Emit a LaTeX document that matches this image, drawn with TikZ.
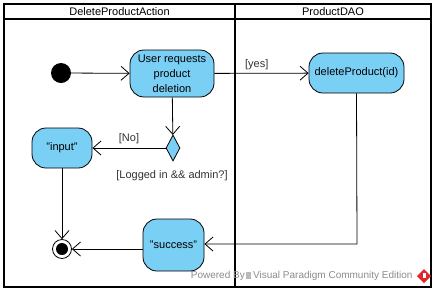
\documentclass[tikz,border=0pt]{standalone}
\usepackage{fontspec}
\setmainfont{Liberation Sans}
\usetikzlibrary{arrows.meta,shapes.geometric}
\definecolor{actfill}{HTML}{7ACFF5}
\definecolor{wmgray}{HTML}{8C8C8C}
\definecolor{vpred}{HTML}{E0262B}
% straight double quote
\newcommand\sdq{\symbol{34}}
\begin{document}
\begin{tikzpicture}[x=1pt,y=-1pt,font=\fontsize{11}{15}\selectfont,
  action/.style={draw=black,line width=0.8pt,fill=actfill,rounded corners=14pt,
    align=center,inner sep=0pt},
  flow/.style={draw=black,line width=0.8pt,-{Straight Barb[length=8pt,width=14pt,line width=0.8pt]}},
  lane/.style={draw=black,line width=2pt},
  guard/.style={font=\fontsize{11}{13}\selectfont,text=black!80}]
\useasboundingbox (0,0) rectangle (435,293);
\fill[white] (0,0) rectangle (435,293);

% swimlanes
\draw[lane] (4,4) rectangle (431,287);
\draw[line width=1.5pt] (4,19) -- (431,19);
\draw[lane] (235,4) -- (235,287);
\node (hL) at (119.5,12) {DeleteProductAction};
\node (hR) at (333,12) {ProductDAO};

% watermark
\node[anchor=east,text=wmgray,font=\fontsize{10}{12}\selectfont] (wm) at (416,276)
  {Powered By\,{\color{wmgray!60}\rule{0.5em}{0.7em}}\,Visual Paradigm Community Edition};
\fill[vpred] (424,269) -- (431,276) -- (424,283) -- (417,276) -- cycle;
\fill[white] (423,273) rectangle (426,278);

% nodes
\node[circle,fill=black,minimum size=20pt,inner sep=0pt] (start) at (61,73) {};
\node[action,minimum width=84pt,minimum height=47pt] (req) at (172,73.5)
  {User requests\\product\\deletion};
\node[action,minimum width=95pt,minimum height=40pt] (del) at (356.5,73) {deleteProduct(id)};
\node[diamond,draw=black,line width=0.8pt,fill=actfill,minimum width=14pt,minimum height=26pt,
  inner sep=0pt,aspect=0.55] (dec) at (173,148) {};
\node[action,minimum width=60pt,minimum height=40pt] (inp) at (62,148) {\sdq input\sdq};
\node[action,minimum width=61pt,minimum height=52pt] (succ) at (173.5,245) {\sdq success\sdq};
\node[circle,draw=black,line width=0.8pt,fill=white,minimum size=19pt,inner sep=0pt] (fin) at (62,249) {};
\node[circle,fill=black,minimum size=12pt,inner sep=0pt] at (fin) {};
\coordinate (bend) at (357,244);

% connectors
\draw[flow] (start) -- (req);
\draw[flow] (req) -- node[guard,above,pos=0.45] (yes) {[yes]} (del);
\draw[flow] (req) -- (dec);
\draw[flow] (dec) -- node[guard,above,pos=0.5] (no) {[No]} (inp);
\node[guard] (cond) at (172,176) {[Logged in \&\& admin?]};
\draw[flow] (inp) -- (fin);
\draw[flow] (del.south) -- (bend) -- (succ.east |- bend);
\draw[flow] (succ.west |- 0,249) -- (fin);
\end{tikzpicture}
\end{document}
